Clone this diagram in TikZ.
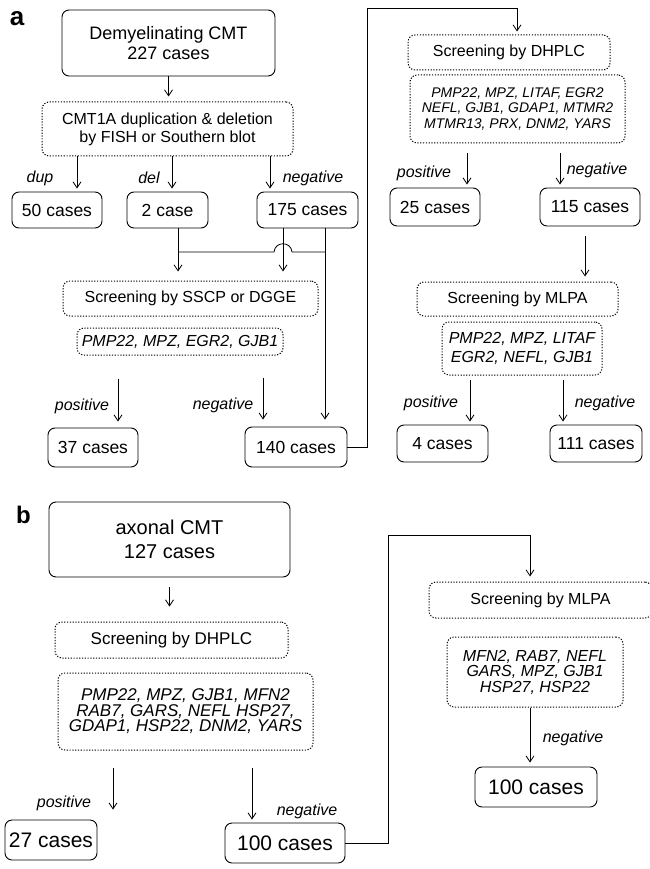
\documentclass[tikz,border=0pt]{standalone}
\usepackage{fontspec}
\setmainfont{Liberation Sans}
\usetikzlibrary{arrows.meta,calc}
\tikzset{
  solidbox/.style={draw, line width=0.9pt, rounded corners=7pt, inner sep=0pt, align=center},
  dotbox/.style={draw, line width=1pt, dash pattern=on 1.2pt off 1.6pt, rounded corners=7pt, inner sep=0pt, align=center},
  arr/.style={line width=0.8pt, -{Straight Barb[length=6pt,width=8pt]}},
  conn/.style={line width=0.8pt},
  lab/.style={font=\fontsize{16}{19}\selectfont\itshape, inner sep=0pt},
  cases/.style={solidbox, font=\fontsize{17.5}{21}\selectfont},
  casesb/.style={solidbox, font=\fontsize{21}{25}\selectfont},
  panel/.style={font=\fontsize{26}{30}\selectfont\bfseries, inner sep=0pt},
  scr/.style={dotbox, font=\fontsize{16}{19}\selectfont},
}
\begin{document}
\begin{tikzpicture}[x=1pt,y=-1pt]
\useasboundingbox (0,0) rectangle (649,869);
% ---------- panel a ----------
\node[panel] (pa) at (17,19) {a};
\node[solidbox, minimum width=213, minimum height=66, font=\fontsize{18}{20}\selectfont] (demy) at (168.5,43) {Demyelinating CMT\\227 cases};
\node[dotbox, minimum width=251, minimum height=54, font=\fontsize{16}{18}\selectfont] (cmt) at (167.5,129) {CMT1A duplication \& deletion\\by FISH or Southern blot};
\node[cases, minimum width=90, minimum height=36] (c50) at (57,210) {50 cases};
\node[cases, minimum width=81, minimum height=36] (c2) at (167.5,210) {2 case};
\node[cases, minimum width=101, minimum height=36] (c175) at (307.5,210) {175 cases};
\node[scr, minimum width=255, minimum height=35] (sscp) at (190.5,298.5) {Screening by SSCP or DGGE};
\node[dotbox, minimum width=206, minimum height=27, font=\fontsize{16}{19}\selectfont\itshape] (g1) at (180,341.5) {PMP22, MPZ, EGR2, GJB1};
\node[cases, minimum width=90, minimum height=39] (c37) at (93,447.5) {37 cases};
\node[cases, minimum width=102, minimum height=40] (c140) at (296,447) {140 cases};

\node[scr, minimum width=202, minimum height=35] (dhA) at (509,52.5) {Screening by DHPLC};
\node[dotbox, minimum width=215, minimum height=68, font=\fontsize{14}{15.5}\selectfont\itshape] (g2) at (517.5,109) {PMP22, MPZ, LITAF, EGR2\\NEFL, GJB1, GDAP1, MTMR2\\MTMR13, PRX, DNM2, YARS};
\node[cases, minimum width=90, minimum height=38] (c25) at (435,207) {25 cases};
\node[cases, minimum width=100, minimum height=38] (c115) at (590,207) {115 cases};
\node[scr, minimum width=201, minimum height=34] (mlA) at (517.5,299) {Screening by MLPA};
\node[dotbox, minimum width=160, minimum height=53, font=\fontsize{16}{19}\selectfont\itshape] (g3) at (522,348.5) {PMP22, MPZ, LITAF\\EGR2, NEFL, GJB1};
\node[cases, minimum width=91, minimum height=37] (c4) at (442.5,443.5) {4 cases};
\node[cases, minimum width=92, minimum height=37] (c111) at (596,443.5) {111 cases};

% labels a
\node[lab] (ldup) at (40,178) {dup};
\node[lab] (ldel) at (149,178) {del};
\node[lab] (lneg1) at (313,178) {negative};
\node[lab] (lpos2) at (82,406) {positive};
\node[lab] (lneg2) at (223,405) {negative};
\node[lab] (lpos3) at (424,173) {positive};
\node[lab] (lneg3) at (597,170) {negative};
\node[lab] (lpos4) at (431,403) {positive};
\node[lab] (lneg4) at (605,403) {negative};

% connectors a
\draw[arr, shorten >=5pt] (demy.south) -- (demy.south |- cmt.north);
\draw[arr, shorten >=3pt] ([xshift=-90.5pt]cmt.south) -- ([xshift=20pt]c50.north);
\draw[arr, shorten >=3pt] ([xshift=4.5pt]cmt.south) -- ([xshift=4.5pt]c2.north);
\draw[arr, shorten >=3pt] ([xshift=102.5pt]cmt.south) -- ([xshift=-37.5pt]c175.north);
\draw[arr, shorten >=9pt] ([xshift=10.5pt]c2.south) coordinate (s2) -- (s2 |- sscp.north);
\draw[arr, shorten >=9pt] ([xshift=-24.5pt]c175.south) coordinate (s3) -- (s3 |- sscp.north);
\draw[arr, shorten >=7pt] ([xshift=17.5pt]c175.south) coordinate (s4) -- (s4 |- c140.north);
\coordinate (hy) at (0,252);
\draw[conn] (s2 |- hy) -- ($(s3 |- hy)+(-9,0)$) .. controls ($(s3 |- hy)+(-8,-11)$) and ($(s3 |- hy)+(8,-11)$) .. ($(s3 |- hy)+(9,0)$) -- (s4 |- hy);
\draw[arr, shorten <=23pt, shorten >=6pt] ([xshift=-62pt]g1.south) coordinate (q1) -- (q1 |- c37.north);
\draw[arr, shorten <=22pt, shorten >=7pt] ([xshift=83pt]g1.south) coordinate (q2) -- (q2 |- c140.north);
\coordinate (t1) at (367,8);
\draw[arr, shorten >=3pt] (c140.east) -| (t1) -| ([xshift=8pt]dhA.north);
\draw[arr, shorten <=10pt, shorten >=3pt] ([xshift=-50.5pt]g2.south) coordinate (q3) -- (q3 |- c25.north);
\draw[arr, shorten <=10pt, shorten >=3pt] ([xshift=42.5pt]g2.south) coordinate (q4) -- (q4 |- c115.north);
\draw[arr, shorten <=10pt, shorten >=5pt] ([xshift=-5pt]c115.south) coordinate (q5) -- (q5 |- mlA.north);
\draw[arr, shorten <=4pt, shorten >=3pt] ([xshift=-52pt]g3.south) coordinate (q6) -- (q6 |- c4.north);
\draw[arr, shorten <=4pt, shorten >=3pt] ([xshift=41pt]g3.south) coordinate (q7) -- (q7 |- c111.north);

% ---------- panel b ----------
\node[panel, font=\fontsize{24}{28}\selectfont\bfseries] (pb) at (23.5,515) {b};
\node[solidbox, minimum width=241, minimum height=75, font=\fontsize{20}{24}\selectfont] (ax) at (169.5,539.5) {axonal CMT\\127 cases};
\node[dotbox, minimum width=233, minimum height=36, font=\fontsize{17}{20}\selectfont] (dhB) at (171.5,640) {Screening by DHPLC};
\node[dotbox, minimum width=255, minimum height=77, font=\fontsize{17}{15.5}\selectfont\itshape] (g4) at (185.5,711.5) {PMP22, MPZ, GJB1, MFN2\\RAB7, GARS, NEFL HSP27,\\GDAP1, HSP22, DNM2, YARS};
\node[casesb, minimum width=92, minimum height=40] (c27) at (51,840) {27 cases};
\node[casesb, minimum width=120, minimum height=40] (c100) at (285,843) {100 cases};
\node[scr, minimum width=223, minimum height=36] (mlB) at (540.5,600) {Screening by MLPA};
\node[dotbox, minimum width=176, minimum height=70, font=\fontsize{16}{15.5}\selectfont\itshape] (g5) at (535,672) {MFN2, RAB7, NEFL\\GARS, MPZ, GJB1\\HSP27, HSP22};
\node[casesb, minimum width=122, minimum height=40] (c100b) at (536,787) {100 cases};

\node[lab] (lpos5) at (64,803) {positive};
\node[lab] (lneg5) at (307,811) {negative};
\node[lab] (lneg6) at (573,738) {negative};

\draw[arr, shorten <=10pt, shorten >=15pt] (ax.south) -- (ax.south |- dhB.north);
\draw[arr, shorten <=17pt, shorten >=10pt] ([xshift=-72.5pt]g4.south) coordinate (q8) -- (q8 |- c27.north);
\draw[arr, shorten <=17pt, shorten >=3pt] ([xshift=66.5pt]g4.south) coordinate (q9) -- (q9 |- c100.north);
\coordinate (t2) at (388,535);
\draw[arr, shorten >=5pt] (c100.east) -| (t2) -| ([xshift=-10.5pt]mlB.north);
\draw[arr, shorten >=4pt] ([xshift=-5pt]g5.south) coordinate (q10) -- (q10 |- c100b.north);
\end{tikzpicture}
\end{document}
